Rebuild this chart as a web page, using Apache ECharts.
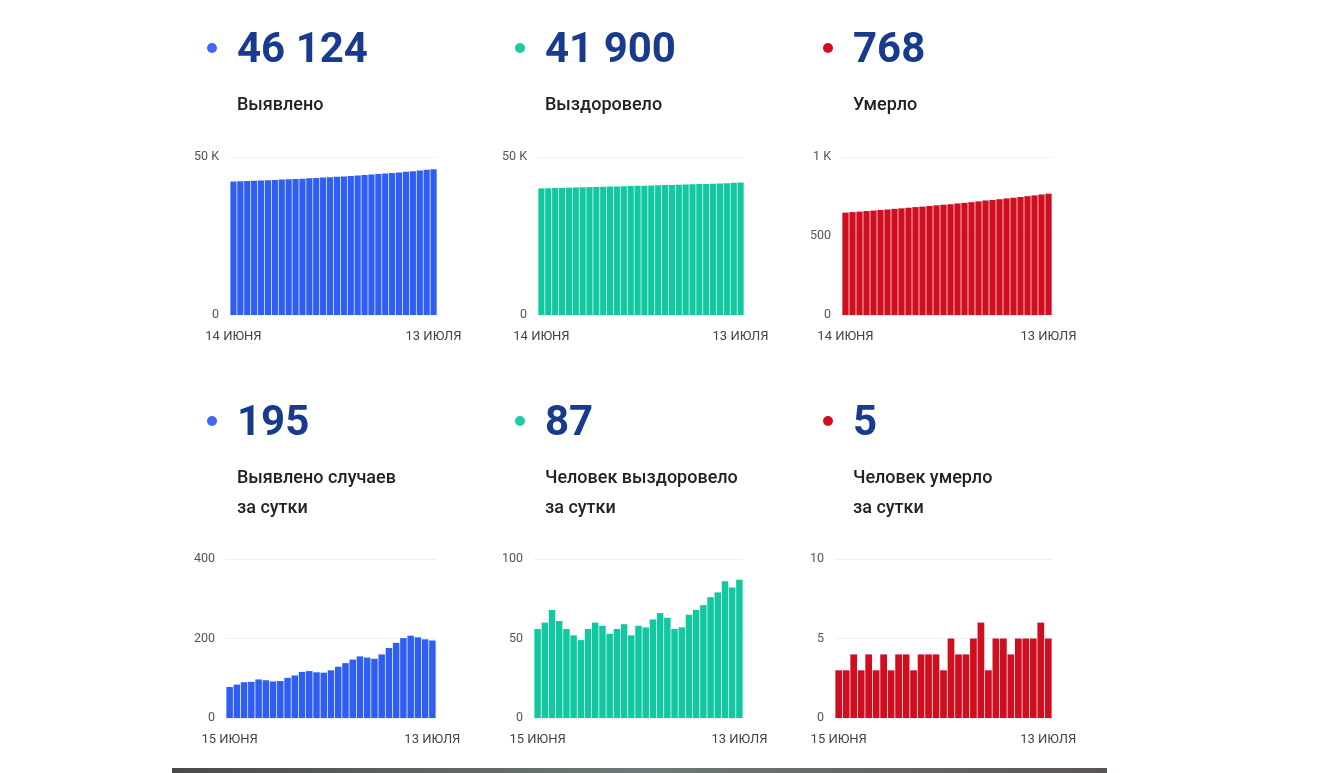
<!DOCTYPE html>
<html>
<head>
<meta charset="utf-8">
<script src="https://cdn.jsdelivr.net/npm/echarts@6/dist/echarts.min.js"></script>
<style>
  html, body { margin: 0; padding: 0; background: #fff; }
  #main { width: 1318px; height: 773px; }
  #edge { position: absolute; left: 172px; top: 768px; width: 935px; height: 5px;
          background: linear-gradient(90deg, #4a4a4a, #6f7878 50%, #5a5555); }
</style>
</head>
<body>
<div id="main"></div>
<div id="edge"></div>
<script>
// дни для накопительных графиков (14 июня - 13 июля) и суточных (15 июня - 13 июля)
var daysTotal = [];
var daysDaily = [];
var juneDays = [14, 15, 16, 17, 18, 19, 20, 21, 22, 23, 24, 25, 26, 27, 28, 29, 30];
var julyDays = [1, 2, 3, 4, 5, 6, 7, 8, 9, 10, 11, 12, 13];
juneDays.forEach(function (d) { daysTotal.push(d + ' ИЮНЯ'); if (d > 14) daysDaily.push(d + ' ИЮНЯ'); });
julyDays.forEach(function (d) { daysTotal.push(d + ' ИЮЛЯ'); daysDaily.push(d + ' ИЮЛЯ'); });

var casesTotal = [42214, 42292, 42376, 42466, 42557, 42654, 42749, 42841, 42934, 43035,
  43142, 43258, 43376, 43491, 43605, 43725, 43854, 43992, 44139, 44294,
  44446, 44595, 44755, 44931, 45120, 45321, 45528, 45731, 45929, 46124];
var recoveredTotal = [40071, 40127, 40187, 40255, 40316, 40372, 40424, 40473, 40529, 40589,
  40647, 40700, 40756, 40815, 40867, 40925, 40982, 41044, 41110, 41173,
  41229, 41286, 41351, 41419, 41490, 41566, 41645, 41731, 41813, 41900];
var deathsTotal = [648, 651, 654, 658, 661, 665, 668, 672, 675, 679,
  683, 686, 690, 694, 698, 701, 706, 710, 714, 719,
  725, 728, 733, 738, 742, 747, 752, 757, 763, 768];

var casesDaily = [78, 84, 90, 91, 97, 95, 92, 93, 101, 107, 116, 118, 115, 114, 120,
  129, 138, 147, 155, 152, 149, 160, 176, 189, 201, 207, 203, 198, 195];
var recoveredDaily = [56, 60, 68, 61, 56, 52, 49, 56, 60, 58, 53, 56, 59, 52, 58,
  57, 62, 66, 63, 56, 57, 65, 68, 71, 76, 79, 86, 82, 87];
var deathsDaily = [3, 3, 4, 3, 4, 3, 4, 3, 4, 4, 3, 4, 4, 4, 3,
  5, 4, 4, 5, 6, 3, 5, 5, 4, 5, 5, 5, 6, 5];

var headNumbers = ['46 124', '41 900', '768', '195', '87', '5'];
var headLabels = [['Выявлено'], ['Выздоровело'], ['Умерло'],
  ['Выявлено случаев', 'за сутки'], ['Человек выздоровело', 'за сутки'], ['Человек умерло', 'за сутки']];

var BLUE = '#2f5ef2', TEAL = '#12c8a0', RED = '#cf0f1f';
var colors = [BLUE, TEAL, RED, BLUE, TEAL, RED];
var dotColors = ['#4169ee', '#1ccaa3', '#d0101e', '#4169ee', '#1ccaa3', '#d0101e'];

var grids = [
  { left: 230, top: 157, width: 207, height: 158 },
  { left: 538, top: 157, width: 206, height: 158 },
  { left: 842, top: 157, width: 210, height: 158 },
  { left: 226, top: 559, width: 210, height: 159 },
  { left: 534, top: 559, width: 209, height: 159 },
  { left: 835, top: 559, width: 217, height: 159 }
];
var yMax = [50000, 50000, 1000, 400, 100, 10];
var yStep = [50000, 50000, 500, 200, 50, 5];
var seriesData = [casesTotal, recoveredTotal, deathsTotal, casesDaily, recoveredDaily, deathsDaily];

var chart = echarts.init(document.getElementById('main'));

var xAxes = [], yAxes = [], series = [], graphics = [];
var colX = [212, 520, 828];
var rowY = [48, 421];

for (var i = 0; i < 6; i++) {
  var cats = i < 3 ? daysTotal : daysDaily;
  xAxes.push({
    type: 'category', gridIndex: i, data: cats,
    axisLine: { show: false }, axisTick: { show: false },
    axisLabel: {
      interval: (function (n) { return function (idx) { return idx === 0 || idx === n - 1; }; })(cats.length),
      color: '#444', fontSize: 13, fontFamily: 'Roboto', margin: 15
    }
  });
  yAxes.push({
    type: 'value', gridIndex: i, min: 0, max: yMax[i], interval: yStep[i],
    axisLine: { show: false }, axisTick: { show: false },
    splitLine: { lineStyle: { color: '#f0f0f0', width: 1 } },
    axisLabel: {
      color: '#555', fontSize: 12.5, fontFamily: 'Roboto', margin: 11,
      formatter: function (v) { return v >= 1000 ? (v / 1000) + ' K' : v; }
    }
  });
  series.push({
    type: 'bar', xAxisIndex: i, yAxisIndex: i, data: seriesData[i],
    barCategoryGap: '10%', itemStyle: { color: colors[i] }, silent: true
  });

  var cx = colX[i % 3], cy = rowY[Math.floor(i / 3)];
  graphics.push({ type: 'circle', shape: { cx: cx, cy: cy, r: 5 }, style: { fill: dotColors[i] } });
  graphics.push({
    type: 'text', x: cx + 25, y: cy + 3,
    style: { text: headNumbers[i], fill: '#183b8d', font: 'bold 42px Roboto', verticalAlign: 'middle' }
  });
  headLabels[i].forEach(function (t, k) {
    graphics.push({
      type: 'text', x: cx + 25, y: cy + 57 + k * 30,
      style: { text: t, fill: '#222', font: '500 18px Roboto', verticalAlign: 'middle' }
    });
  });
}

chart.setOption({
  animation: false,
  grid: grids,
  xAxis: xAxes,
  yAxis: yAxes,
  series: series,
  graphic: graphics
});
</script>
</body>
</html>
